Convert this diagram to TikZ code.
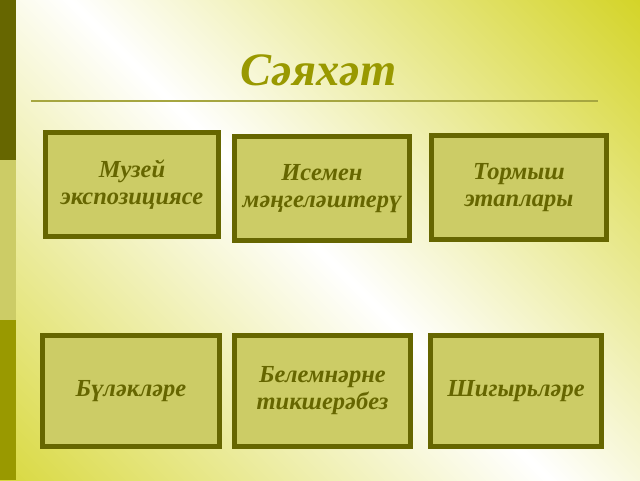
\documentclass[tikz,border=0pt]{standalone}
\usepackage{fontspec}
\setmainfont{Liberation Serif}
\definecolor{olivedark}{rgb}{0.4,0.4,0}
\definecolor{olivelight}{rgb}{0.8,0.8,0.4}
\definecolor{olivemid}{rgb}{0.6,0.6,0}
\definecolor{olivebg}{rgb}{0.8,0.8,0}
\definecolor{oliveline}{rgb}{0.65,0.65,0.25}

\begin{document}
\begin{tikzpicture}[x=1pt,y=-1pt,
    card/.style={draw=olivedark, line width=5pt, fill=olivelight, inner sep=0pt,
        text=olivedark, align=center, font=\bfseries\itshape\fontsize{24.5}{27}\selectfont}]
                \useasboundingbox (0,0) rectangle (640,480);
                % background
                \begin{scope}
                    \clip (0,0) rectangle (640,480);
                    \shade[top color=olivebg, bottom color=olivebg!92!white, middle color=white, shading angle=-45] (-160,-230) rectangle (800,730);
                \end{scope}
                \fill[olivedark] (0,0) rectangle (16,160);
                \fill[olivelight] (0,160) rectangle (16,320);
                \fill[olivemid] (0,320) rectangle (16,480);
                % title
                \node[anchor=base, text=olivemid, font=\bfseries\itshape\fontsize{46.5}{54}\selectfont] (title) at (318.5,85) {Сәяхәт};
                \draw[oliveline, line width=2pt] (31,101) -- (598,101);
                % upper row
                \node[card, minimum width=173pt, minimum height=104pt] (museum) at (132,184.5) {Музей\\экспозициясе};
                \node[card, minimum width=175pt, minimum height=104pt] (names) at (322,188.5) {Исемен\\мәңгеләштерү};
                \node[card, minimum width=175pt, minimum height=104pt] (stages) at (519,187.5) {Тормыш\\этаплары};
                % lower row
                \node[card, minimum width=177pt, minimum height=111pt] (awards) at (131,391) {Бүләкләре};
                \node[card, minimum width=176pt, minimum height=111pt] (knowledge) at (322.5,391) {Белемнәрне\\тикшерәбез};
                \node[card, minimum width=171pt, minimum height=111pt] (poems) at (516,391) {Шигырьләре};
            \end{tikzpicture}
\end{document}
